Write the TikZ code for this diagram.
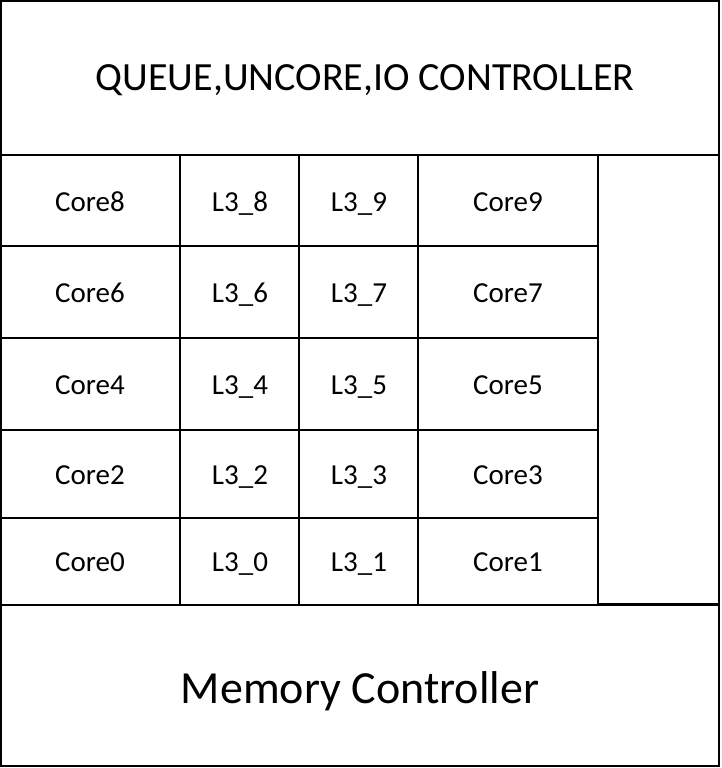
\documentclass[tikz,border=0pt]{standalone}
\usepackage{fontspec}
\setmainfont{Carlito}
\begin{document}
\begin{tikzpicture}[x=1pt,y=-1pt,
  cell/.style={draw=black,line width=1.6pt,rectangle,inner sep=0pt,outer sep=0pt,anchor=north west},
  lbl/.style={font=\fontsize{29}{32}\selectfont,inner sep=0pt,text height=21pt,text depth=3pt},
  big/.style={font=\fontsize{40}{44}\selectfont,inner sep=0pt,text height=29pt,text depth=3pt},
  mem/.style={font=\fontsize{46}{50}\selectfont,inner sep=0pt,text height=33pt,text depth=3pt}]
\useasboundingbox (0,0) rectangle (721,768);
% top and bottom blocks
\node[cell,minimum width=718pt,minimum height=154pt] (top) at (1,1) {};
\node[big] (toplbl) at (365,77) {QUEUE,UNCORE,IO CONTROLLER};
\node[cell,minimum width=718pt,minimum height=161pt] (mc) at (1,605) {};
\node[mem] (mclbl) at (360,688) {Memory Controller};
% right empty column
\node[cell,minimum width=121pt,minimum height=449pt] (empty) at (598,155) {};
% grid
\foreach \r/\ya/\yb/\ty/\cl/\la/\lb/\cr in {
  1/155/246/202/8/8/9/9,
  2/246/338/293/6/6/7/7,
  3/338/430/385/4/4/5/5,
  4/430/518/475/2/2/3/3,
  5/518/605/562/0/0/1/1}{
  \pgfmathsetmacro{\h}{\yb-\ya}
  \node[cell,minimum width=179pt,minimum height=\h pt] (c\cl) at (1,\ya) {};
  \node[lbl] (tc\cl) at (90,\ty) {Core\cl};
  \node[cell,minimum width=119pt,minimum height=\h pt] (l\la) at (180,\ya) {};
  \node[lbl] (tl\la) at (240,\ty) {L3\_\la};
  \node[cell,minimum width=119pt,minimum height=\h pt] (l\lb) at (299,\ya) {};
  \node[lbl] (tl\lb) at (359,\ty) {L3\_\lb};
  \node[cell,minimum width=180pt,minimum height=\h pt] (c\cr) at (418,\ya) {};
  \node[lbl] (tc\cr) at (508,\ty) {Core\cr};
}
\end{tikzpicture}
\end{document}
